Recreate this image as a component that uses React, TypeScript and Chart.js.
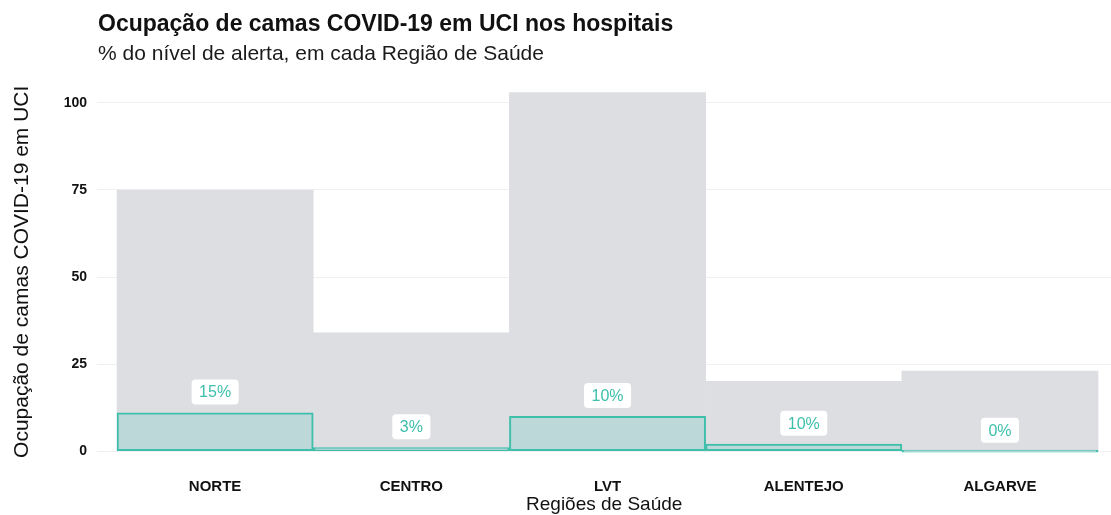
import React, { useEffect, useRef } from "react";
import { Chart, registerables } from "chart.js";

Chart.register(...registerables);

// ---- data ----
const categories = ["NORTE", "CENTRO", "LVT", "ALENTEJO", "ALGARVE"];
const alertLevel = [75, 34, 103, 20, 23];
const occupied = [11, 1, 10, 2, 0];
const percentLabels = ["15%", "3%", "10%", "10%", "0%"];
const yTicks = [0, 25, 50, 75, 100];

const titleText = "Ocupação de camas COVID-19 em UCI nos hospitais";
const subtitleText = "% do nível de alerta, em cada Região de Saúde";
const xTitle = "Regiões de Saúde";
const yTitle = "Ocupação de camas COVID-19 em UCI";

// ---- styles ----
const FONT = "'Liberation Sans', Arial, Helvetica, sans-serif";
const TEAL = "#3dbfaa";
const TEAL_FILL = "#bdd8d9";
const GRAY_FILL = "#dcdee2";
const LABEL_NUDGE = 6;

const labelPlugin = {
  id: "pctLabels",
  afterDatasetsDraw(chart: any) {
    const { ctx } = chart;
    const x = chart.scales.x;
    const y = chart.scales.y;
    ctx.save();
    ctx.font = `16px ${FONT}`;
    ctx.textAlign = "center";
    ctx.textBaseline = "middle";
    percentLabels.forEach((t, i) => {
      const px = x.getPixelForValue(i + 1);
      const py = y.getPixelForValue(occupied[i] + LABEL_NUDGE);
      const w = ctx.measureText(t).width + 15;
      const h = 25;
      ctx.beginPath();
      if (ctx.roundRect) ctx.roundRect(px - w / 2, py - h / 2, w, h, 4);
      else ctx.rect(px - w / 2, py - h / 2, w, h);
      ctx.fillStyle = "#ffffff";
      ctx.fill();
      ctx.fillStyle = TEAL;
      ctx.fillText(t, px, py + 1);
    });
    ctx.restore();
  },
};

export default function App() {
  const canvasRef = useRef<HTMLCanvasElement | null>(null);

  useEffect(() => {
    const canvas = canvasRef.current;
    if (!canvas) return;
    const xs = categories.map((_, i) => i + 1);
    const chart = new Chart(canvas, {
      type: "bar",
      data: {
        datasets: [
          {
            label: "Ocupadas",
            data: xs.map((xv, i) => ({ x: xv, y: occupied[i] })),
            backgroundColor: TEAL_FILL,
            borderColor: TEAL,
            borderWidth: 2,
            borderSkipped: false,
            minBarLength: 2,
            order: 0,
          } as any,
          {
            label: "Nível de alerta",
            data: xs.map((xv, i) => ({ x: xv, y: alertLevel[i] })),
            backgroundColor: GRAY_FILL,
            borderWidth: 0,
            order: 1,
          } as any,
        ],
      },
      options: {
        responsive: false,
        animation: false,
        layout: { padding: { top: 74.6, right: 0, bottom: 0, left: 0 } },
        datasets: {
          bar: { grouped: false, barPercentage: 1, categoryPercentage: 1 } as any,
        },
        plugins: {
          legend: { display: false },
          tooltip: { enabled: false },
          title: { display: false },
        },
        scales: {
          x: {
            type: "linear",
            min: 0.4,
            max: 5.566,
            offset: false,
            grid: { display: false, drawTicks: false, offset: false },
            border: { display: false },
            afterBuildTicks: (s: any) => {
              s.ticks = categories.map((_, i) => ({ value: i + 1 }));
            },
            afterFit: (s: any) => {
              s.height = 46;
            },
            ticks: {
              autoSkip: false,
              maxRotation: 0,
              padding: 9,
              color: "#111",
              font: { family: FONT, size: 15, weight: "bold" },
              callback: (v: any) => categories[Math.round(Number(v)) - 1] ?? "",
            },
            title: {
              display: true,
              text: xTitle,
              color: "#111",
              font: { family: FONT, size: 19 },
              padding: { top: 0, bottom: -1.5 },
            },
          } as any,
          y: {
            type: "linear",
            min: -5.15,
            max: 108.15,
            afterBuildTicks: (s: any) => {
              s.ticks = yTicks.map((v) => ({ value: v }));
            },
            afterFit: (s: any) => {
              s.width = 97.4;
            },
            grid: { color: "#f0f0f0", lineWidth: 1, drawTicks: false },
            border: { display: false },
            ticks: {
              padding: 10.4,
              color: "#111",
              font: { family: FONT, size: 14, weight: "bold" },
            },
            title: {
              display: true,
              text: yTitle,
              color: "#111",
              font: { family: FONT, size: 21 },
              padding: { top: 9.4, bottom: 0 },
            },
          } as any,
        },
      },
      plugins: [labelPlugin],
    });
    return () => chart.destroy();
  }, []);

  return (
    <div
      style={{
        position: "absolute",
        top: 0,
        left: 0,
        width: 1111,
        height: 515,
        background: "#ffffff",
        overflow: "hidden",
        fontFamily: FONT,
      }}
    >
      <canvas
        ref={canvasRef}
        width={1111}
        height={515}
        style={{ position: "absolute", top: 0, left: 0, width: 1111, height: 515 }}
      />
      <div
        style={{
          position: "absolute",
          left: 98,
          top: 11.5,
          fontSize: 23,
          lineHeight: 1,
          fontWeight: "bold",
          color: "#111",
          whiteSpace: "nowrap",
        }}
      >
        {titleText}
      </div>
      <div
        style={{
          position: "absolute",
          left: 98,
          top: 42.2,
          fontSize: 21,
          lineHeight: 1,
          color: "#1a1a1a",
          whiteSpace: "nowrap",
        }}
      >
        {subtitleText}
      </div>
    </div>
  );
}
